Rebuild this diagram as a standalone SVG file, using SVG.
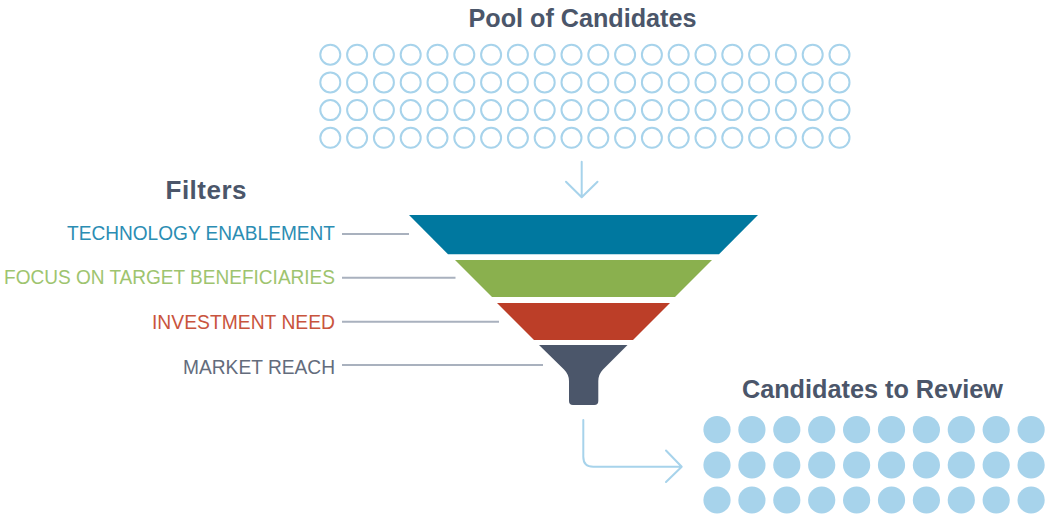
<svg xmlns="http://www.w3.org/2000/svg" width="1047" height="514" viewBox="0 0 1047 514">
<defs>
<style>
.title{font-family:"Liberation Sans",Arial,sans-serif;font-weight:bold;font-size:26px;fill:#4b566a;text-anchor:middle}
.lbl{font-family:"Liberation Sans",Arial,sans-serif;font-size:20.5px;text-anchor:end}
.ring{fill:none;stroke:#a7d3eb;stroke-width:2}
.dot{fill:#a7d3eb}
.lead{stroke:#a9b1be;stroke-width:2;fill:none}
.conn{stroke:#a7d3eb;stroke-width:2;fill:none;stroke-linecap:round;stroke-linejoin:round}
</style>
<circle id="r" class="ring" r="10"/>
<circle id="d" class="dot" r="13.6"/>
<g id="ringrow">
<use href="#r" x="330.3"/><use href="#r" x="357.1"/><use href="#r" x="383.9"/><use href="#r" x="410.7"/><use href="#r" x="437.5"/>
<use href="#r" x="464.3"/><use href="#r" x="491.1"/><use href="#r" x="517.9"/><use href="#r" x="544.7"/><use href="#r" x="571.5"/>
<use href="#r" x="598.3"/><use href="#r" x="625.1"/><use href="#r" x="651.9"/><use href="#r" x="678.7"/><use href="#r" x="705.5"/>
<use href="#r" x="732.3"/><use href="#r" x="759.1"/><use href="#r" x="785.9"/><use href="#r" x="812.7"/><use href="#r" x="839.5"/>
</g>
<g id="dotrow">
<use href="#d" x="717"/><use href="#d" x="751.9"/><use href="#d" x="786.8"/><use href="#d" x="821.7"/><use href="#d" x="856.6"/>
<use href="#d" x="891.5"/><use href="#d" x="926.4"/><use href="#d" x="961.3"/><use href="#d" x="996.2"/><use href="#d" x="1031.1"/>
</g>
</defs>
<rect width="1047" height="514" fill="#ffffff"/>

<g id="pool">
<text class="title" x="582.5" y="27" textLength="228" lengthAdjust="spacingAndGlyphs">Pool of Candidates</text>
<use href="#ringrow" y="54.7"/>
<use href="#ringrow" y="82.4"/>
<use href="#ringrow" y="110.1"/>
<use href="#ringrow" y="137.8"/>
</g>

<g id="filters">
<text class="title" x="206" y="199.3" textLength="81">Filters</text>
</g>

<g id="funnel">
<path id="band-technology" d="M409,215 L758,215 L719,254.3 L448,254.3 Z" fill="#00789f"/>
<path id="band-focus" d="M455,260 L712,260 L675,297 L492,297 Z" fill="#8ab04e"/>
<path id="band-investment" d="M497,303 L670,303 L633,340 L534,340 Z" fill="#bc3e28"/>
<path id="band-market" d="M539,345 L627.5,345 L603,369.5 Q598.3,374.5 598.3,381 L598.3,401 Q598.3,405 594.3,405 L573,405 Q569,405 569,401 L569,381 Q569,374.5 564,369.5 Z" fill="#4b566a"/>
</g>

<g id="labels">
<text class="lbl" x="335" y="239.5" fill="#2b8db3" textLength="268" lengthAdjust="spacingAndGlyphs">TECHNOLOGY ENABLEMENT</text>
<text class="lbl" x="335" y="284.3" fill="#9ec46f" textLength="331" lengthAdjust="spacingAndGlyphs">FOCUS ON TARGET BENEFICIARIES</text>
<text class="lbl" x="335" y="329.2" fill="#c9543d" textLength="183" lengthAdjust="spacingAndGlyphs">INVESTMENT NEED</text>
<text class="lbl" x="335" y="373.5" fill="#636c7c" textLength="152" lengthAdjust="spacingAndGlyphs">MARKET REACH</text>
</g>

<g id="review">
<text class="title" x="872.4" y="398.3" textLength="261" lengthAdjust="spacingAndGlyphs">Candidates to Review</text>
<use href="#dotrow" y="429.7"/>
<use href="#dotrow" y="465"/>
<use href="#dotrow" y="500"/>
</g>

<g id="connectors">
<line class="lead" x1="342" y1="234" x2="409" y2="234"/>
<line class="lead" x1="342" y1="277.7" x2="455.5" y2="277.7"/>
<line class="lead" x1="342" y1="321.7" x2="499" y2="321.7"/>
<line class="lead" x1="342" y1="365" x2="543" y2="365"/>
<path class="conn" d="M581.7,161.7 L581.7,197 M566,181.7 L581.7,197.3 L597.5,181.7"/>
<path class="conn" d="M583.3,420 L583.3,456.7 Q583.3,466.7 593.3,466.7 L681.5,466.7 M666,450.5 L681.7,466.7 L666,482"/>
</g>
</svg>
